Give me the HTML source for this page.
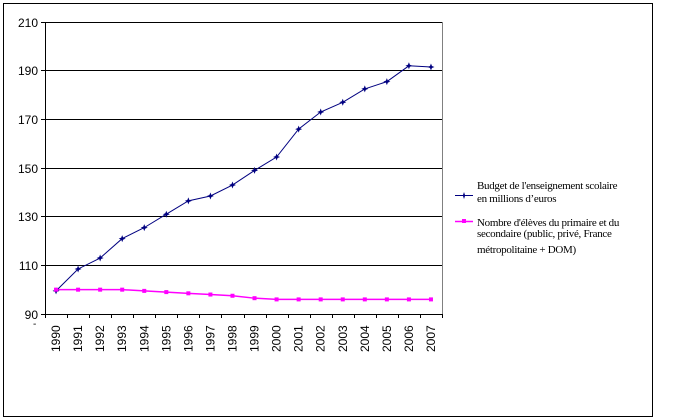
<!DOCTYPE html>
<html><head><meta charset="utf-8"><style>
html,body{margin:0;padding:0;background:#fff;}
svg{display:block;font-family:"Liberation Sans",Arial,sans-serif;}
</style></head><body>
<svg width="676" height="420" xmlns="http://www.w3.org/2000/svg">
<rect x="3.5" y="3.5" width="649" height="413" fill="#fff" stroke="#000" stroke-width="1"/>
<g stroke="#000" stroke-width="1">
<line x1="45" y1="22.5" x2="442" y2="22.5"/>
<line x1="45" y1="70.5" x2="442" y2="70.5"/>
<line x1="45" y1="119.5" x2="442" y2="119.5"/>
<line x1="45" y1="168.5" x2="442" y2="168.5"/>
<line x1="45" y1="216.5" x2="442" y2="216.5"/>
<line x1="45" y1="265.5" x2="442" y2="265.5"/>
</g>
<line x1="442.5" y1="22" x2="442.5" y2="314" stroke="#808080"/>
<line x1="45.5" y1="22" x2="45.5" y2="318" stroke="#000"/>
<line x1="45" y1="314.5" x2="443" y2="314.5" stroke="#000"/>
<g stroke="#000">
<line x1="41" y1="22.5" x2="45" y2="22.5"/><line x1="41" y1="70.5" x2="45" y2="70.5"/>
<line x1="41" y1="119.5" x2="45" y2="119.5"/><line x1="41" y1="168.5" x2="45" y2="168.5"/>
<line x1="41" y1="216.5" x2="45" y2="216.5"/><line x1="41" y1="265.5" x2="45" y2="265.5"/>
<line x1="41" y1="314.5" x2="45" y2="314.5"/>
</g>
<g id="xt" stroke="#000"></g>
<g font-size="12" text-anchor="end" fill="#000">
<text x="38" y="27">210</text><text x="38" y="75">190</text><text x="38" y="124">170</text>
<text x="38" y="173">150</text><text x="38" y="221">130</text><text x="38" y="270">110</text>
<text x="38" y="319">90</text>
</g>
<text x="33" y="327" font-size="10">-</text>
<g id="xl" font-size="12" fill="#000"></g>
<polyline id="pk" fill="none" stroke="#ff00ff" stroke-width="1.5"/>
<polyline id="bl" fill="none" stroke="#000080" stroke-width="1"/>
<g id="mk"></g>
<line x1="455" y1="195.5" x2="473" y2="195.5" stroke="#000080"/>
<path d="M464 192 L465 195 L468 195.5 L465 196 L464 199 L463 196 L460 195.5 L463 195Z" fill="#000080"/>
<line x1="455" y1="221.5" x2="473" y2="221.5" stroke="#ff00ff" stroke-width="1.5"/>
<rect x="462" y="219" width="4" height="4" fill="#ff00ff"/>
<g font-family="'Liberation Serif',serif" font-size="11" fill="#000" letter-spacing="-0.3">
<text x="477" y="189">Budget de l'enseignement scolaire</text>
<text x="477" y="202">en millions d’euros</text>
<text x="477" y="226">Nombre d'élèves du primaire et du</text>
<text x="477" y="237">secondaire (public, privé, France</text>
<text x="477" y="253">métropolitaine + DOM)</text>
</g>
<script>
var b=[99.5,108.5,113,121,125.5,131,136.5,138.5,143,149,154.5,166,173,177,182.5,185.5,192,191.5];
var p=[100,100,100,100,99.5,99,98.5,98,97.5,96.5,96,96,96,96,96,96,96,96];
var w=397/18,ns="http://www.w3.org/2000/svg";
function X(i){return 45+w*(i+0.5);} function Y(v){return 314-(v-90)*292/120;}
document.getElementById('bl').setAttribute('points',b.map((v,i)=>X(i)+','+Y(v)).join(' '));
document.getElementById('pk').setAttribute('points',p.map((v,i)=>X(i)+','+Y(v)).join(' '));
var mk=document.getElementById('mk'),xt=document.getElementById('xt'),xl=document.getElementById('xl');
for(var i=0;i<18;i++){
 var x=X(i),y=Y(b[i]);
 var e=document.createElementNS(ns,'path');
 e.setAttribute('d','M'+x+' '+(y-3.5)+' L'+(x+1)+' '+(y-1)+' L'+(x+3.5)+' '+y+' L'+(x+1)+' '+(y+1)+' L'+x+' '+(y+3.5)+' L'+(x-1)+' '+(y+1)+' L'+(x-3.5)+' '+y+' L'+(x-1)+' '+(y-1)+'Z');
 e.setAttribute('fill','#000080');mk.appendChild(e);
 var r=document.createElementNS(ns,'rect');
 r.setAttribute('x',x-2);r.setAttribute('y',Y(p[i])-2);r.setAttribute('width',4);r.setAttribute('height',4);r.setAttribute('fill','#ff00ff');mk.appendChild(r);
 var t=document.createElementNS(ns,'text');
 t.setAttribute('transform','translate('+(x+4)+',352) rotate(-90)');t.textContent=1990+i;xl.appendChild(t);
}
for(var i=0;i<=18;i++){var l=document.createElementNS(ns,'line');var xx=Math.round(45+w*i)+0.5;
 l.setAttribute('x1',xx);l.setAttribute('x2',xx);l.setAttribute('y1',314);l.setAttribute('y2',318);xt.appendChild(l);}
</script>
</svg>
</body></html>
